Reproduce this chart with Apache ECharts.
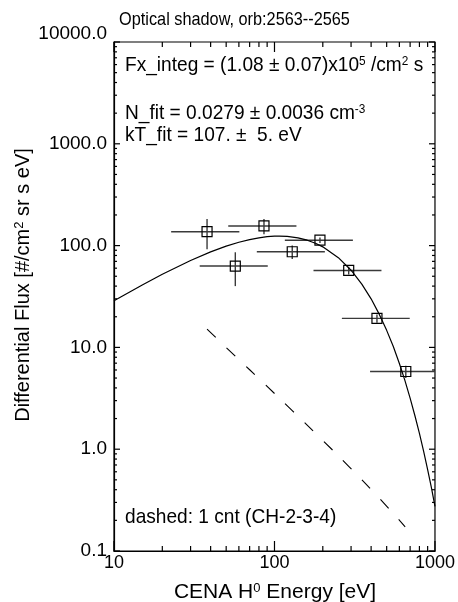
<!DOCTYPE html>
<html>
<head>
<meta charset="utf-8">
<script src="https://cdn.jsdelivr.net/npm/echarts@6/dist/echarts.min.js"></script>
<style>
html, body { margin: 0; padding: 0; background: #fff; }
#chart { width: 458px; height: 602px; }
</style>
</head>
<body>
<div id="chart"></div>
<script>
// measured points: energy centre, flux, bin edges, flux error
var energy = [38, 57, 86, 129, 192, 290, 435, 658];
var flux = [137, 63, 156, 87, 113, 57, 19.3, 5.8];
var eLow = [22.7, 34.2, 51.5, 77.6, 116, 175, 263, 394];
var eHigh = [60.4, 90.8, 137, 206, 308, 464, 696, 1100];
var fluxErr = [45, 23, 27, 13, 7, 5, 1.8, 0.8];

// fitted curve
var fitE = [10, 15, 20, 30, 40, 50, 60, 70, 80, 90, 100, 107, 120, 140, 160, 180, 200,
	250, 300, 350, 400, 450, 500, 550, 600, 650, 700, 750, 800, 850, 900, 950, 1000];
var fitFlux = [28.7, 41.1, 52.3, 71.4, 86.7, 98.7, 107.9, 114.6, 119.3, 122.3, 123.7, 124, 123.2,
	119.2, 113.0, 105.5, 97.2, 76.1, 57.3, 41.9, 30.0, 21.1, 14.7, 10.2, 6.94, 4.71, 3.18,
	2.13, 1.43, 0.95, 0.63, 0.42, 0.275];

// 1 count level (dashed)
var cntE = [38, 57, 86, 129, 192, 290, 435, 652];
var cntFlux = [15.1, 8.2, 4.43, 2.39, 1.30, 0.678, 0.349, 0.173];

var xTicks = [10, 100, 1000];
var yTicks = [0.1, 1, 10, 100, 1000, 10000];

var font = '"Liberation Sans", Arial, Helvetica, sans-serif';

function pairs(a, b) {
	var out = [];
	for (var i = 0; i < a.length; i++) out.push([a[i], b[i]]);
	return out;
}

var pointData = [];
for (var i = 0; i < energy.length; i++) {
	pointData.push([energy[i], flux[i], eLow[i], eHigh[i], flux[i] - fluxErr[i], flux[i] + fluxErr[i]]);
}

var myChart = echarts.init(document.getElementById('chart'));

var rich = function (size, sup) {
	return {
		a: { fontFamily: font, fontSize: size, fill: '#000', color: '#000' },
		s: { fontFamily: font, fontSize: sup, fill: '#000', color: '#000', verticalAlign: 'top' }
	};
};

var texts = [
	{
		type: 'text', x: 234.5, y: 20, scaleX: 0.88,
		style: { text: 'Optical shadow, orb:2563--2565', font: '18.5px ' + font, fill: '#000',
			align: 'center', verticalAlign: 'middle' }
	},
	{
		type: 'text', x: 275, y: 592,
		style: { text: '{a|CENA H}{s|0}{a| Energy [eV]}', rich: rich(21, 13),
			align: 'center', verticalAlign: 'middle' }
	},
	{
		type: 'text', x: 23, y: 285, rotation: Math.PI / 2,
		style: { text: '{a|Differential Flux [#/cm}{s|2}{a| sr s eV]}', rich: rich(20, 13),
			align: 'center', verticalAlign: 'middle' }
	},
	{
		type: 'text', x: 125, y: 65, scaleX: 0.91,
		style: { text: '{a|Fx_integ = (1.08 \u00b1 0.07)x10}{s|5}{a| /cm}{s|2}{a| s}', rich: rich(21, 13),
			verticalAlign: 'middle' }
	},
	{
		type: 'text', x: 125, y: 113, scaleX: 0.91,
		style: { text: '{a|N_fit = 0.0279 \u00b1 0.0036 cm}{s|-3}', rich: rich(21, 13),
			verticalAlign: 'middle' }
	},
	{
		type: 'text', x: 125, y: 135.5, scaleX: 0.91,
		style: { text: 'kT_fit = 107. \u00b1  5. eV', font: '21px ' + font, fill: '#000', verticalAlign: 'middle' }
	},
	{
		type: 'text', x: 125, y: 517.5, scaleX: 0.91,
		style: { text: 'dashed: 1 cnt (CH-2-3-4)', font: '21px ' + font, fill: '#000', verticalAlign: 'middle' }
	}
];

var option = {
	animation: false,
	backgroundColor: '#fff',
	grid: { left: 114, right: 22, top: 42, bottom: 51, show: true, borderColor: '#000', borderWidth: 1.2 },
	xAxis: {
		type: 'log', logBase: 10, min: 10, max: 1000,
		axisLine: { onZero: false, lineStyle: { color: '#000', width: 1.2 } },
		axisTick: { show: false },
		splitLine: { show: false },
		axisLabel: {
			margin: 3, color: '#000', fontFamily: font, fontSize: 18,
			formatter: function (v) { return String(Math.round(v)); }
		}
	},
	yAxis: {
		type: 'log', logBase: 10, min: 0.1, max: 10000,
		axisLine: { onZero: false, lineStyle: { color: '#000', width: 1.2 } },
		axisTick: { show: false },
		splitLine: { show: false },
		axisLabel: {
			margin: 7, color: '#000', fontFamily: font, fontSize: 19,
			formatter: function (v) {
				var s = v.toFixed(1);
				return v > 5000 ? '{top|' + s + '}' : s;
			},
			rich: { top: { fontFamily: font, fontSize: 19, color: '#000', padding: [0, 0, 16, 0] } }
		}
	},
	series: [
		{
			name: 'fit', type: 'line',
			data: pairs(fitE, fitFlux),
			showSymbol: false, smooth: false,
			lineStyle: { color: '#000', width: 1.2 }
		},
		{
			name: '1 cnt', type: 'line',
			data: pairs(cntE, cntFlux),
			showSymbol: false, smooth: true,
			lineStyle: { color: '#000', width: 1.1, type: [12, 15] }
		},
		{
			name: 'data', type: 'custom',
			data: pointData,
			clip: true,
			renderItem: function (params, api) {
				var c = api.coord([api.value(0), api.value(1)]);
				var l = api.coord([api.value(2), api.value(1)]);
				var r = api.coord([api.value(3), api.value(1)]);
				var lo = api.coord([api.value(0), api.value(4)]);
				var hi = api.coord([api.value(0), api.value(5)]);
				var cs = params.coordSys;
				var rx = Math.min(r[0], cs.x + cs.width);
				var bar = { stroke: '#3a3a3a', lineWidth: 1.4 };
				return { type: 'group', children: [
					{ type: 'line', shape: { x1: l[0], y1: c[1], x2: rx, y2: c[1] }, style: bar },
					{ type: 'line', shape: { x1: c[0], y1: lo[1], x2: c[0], y2: hi[1] }, style: bar },
					{ type: 'rect', shape: { x: c[0] - 5, y: c[1] - 5, width: 10, height: 10 },
						style: { fill: 'none', stroke: '#000', lineWidth: 1.2 } }
				] };
			}
		}
	],
	graphic: texts
};

myChart.setOption(option);

// inward ticks on all four sides, placed with the chart's own axes
function addTicks() {
	var px = function (x, y) { return myChart.convertToPixel({ gridIndex: 0 }, [x, y]); };
	var corner0 = px(10, 0.1), corner1 = px(1000, 10000);
	var left = corner0[0], bottom = corner0[1], right = corner1[0], top = corner1[1];
	var st = { stroke: '#000', lineWidth: 1.2 };
	var els = [];
	function xTick(v, len) {
		var x = px(v, 1)[0];
		els.push({ type: 'line', shape: { x1: x, y1: bottom, x2: x, y2: bottom - len }, style: st });
		els.push({ type: 'line', shape: { x1: x, y1: top, x2: x, y2: top + len }, style: st });
	}
	function yTick(v, len) {
		var y = px(10, v)[1];
		els.push({ type: 'line', shape: { x1: left, y1: y, x2: left + len, y2: y }, style: st });
		els.push({ type: 'line', shape: { x1: right, y1: y, x2: right - len, y2: y }, style: st });
	}
	for (var d = 0; d < xTicks.length; d++) {
		xTick(xTicks[d], 10);
		if (d < xTicks.length - 1) for (var k = 2; k <= 9; k++) xTick(xTicks[d] * k, 5);
	}
	for (var d = 0; d < yTicks.length; d++) {
		yTick(yTicks[d], 6);
		if (d < yTicks.length - 1) for (var k = 2; k <= 9; k++) yTick(yTicks[d] * k, 3);
	}
	myChart.setOption({ graphic: texts.concat(els) });
}
addTicks();
window.onresize = myChart.resize;
</script>
</body>
</html>
